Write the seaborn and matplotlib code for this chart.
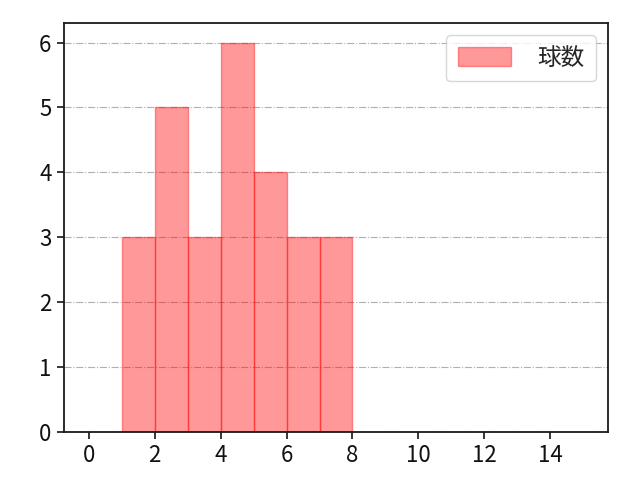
import numpy as np
import pandas as pd
import matplotlib
matplotlib.use("Agg")
import matplotlib.pyplot as plt
import seaborn as sns

bin_left = [1, 2, 3, 4, 5, 6, 7]
counts = [3, 5, 3, 6, 4, 3, 3]
label = "球数"

sns.set_style("ticks")
plt.rcParams['font.family'] = ['Noto Sans CJK JP', 'DejaVu Sans']

df = pd.DataFrame({"x": [b + 0.5 for b in bin_left], "w": counts})

fig, ax = plt.subplots(figsize=(6.4, 4.8), dpi=100)
fig.subplots_adjust(left=0.1, right=0.95, top=0.952, bottom=0.1)
sns.histplot(data=df, x="x", weights="w", binwidth=1, binrange=(1, 8),
             facecolor=(1, 0, 0, 0.4), edgecolor=(1, 0, 0, 0.4), linewidth=1.0,
             label=label, ax=ax)
ax.set_xlim(-0.75, 15.75)
ax.set_ylim(0, 6.3)
ax.set_xticks(range(0, 15, 2))
ax.set_yticks(range(0, 7))
ax.set_xlabel("")
ax.set_ylabel("")
ax.yaxis.grid(True, linestyle="-.", color="#b0b0b0", linewidth=0.8)
ax.set_axisbelow(True)
for s in ax.spines.values():
    s.set_linewidth(1.3)
    s.set_color("#1a1a1a")
ax.tick_params(labelsize=16, length=5, width=1.3, pad=4, labelcolor="#111111")
ax.legend(loc="upper right", fontsize=17, handlelength=2.25, handleheight=0.83,
          handletextpad=1.1, borderpad=0.5)
fig.savefig("out.png", dpi=100)
